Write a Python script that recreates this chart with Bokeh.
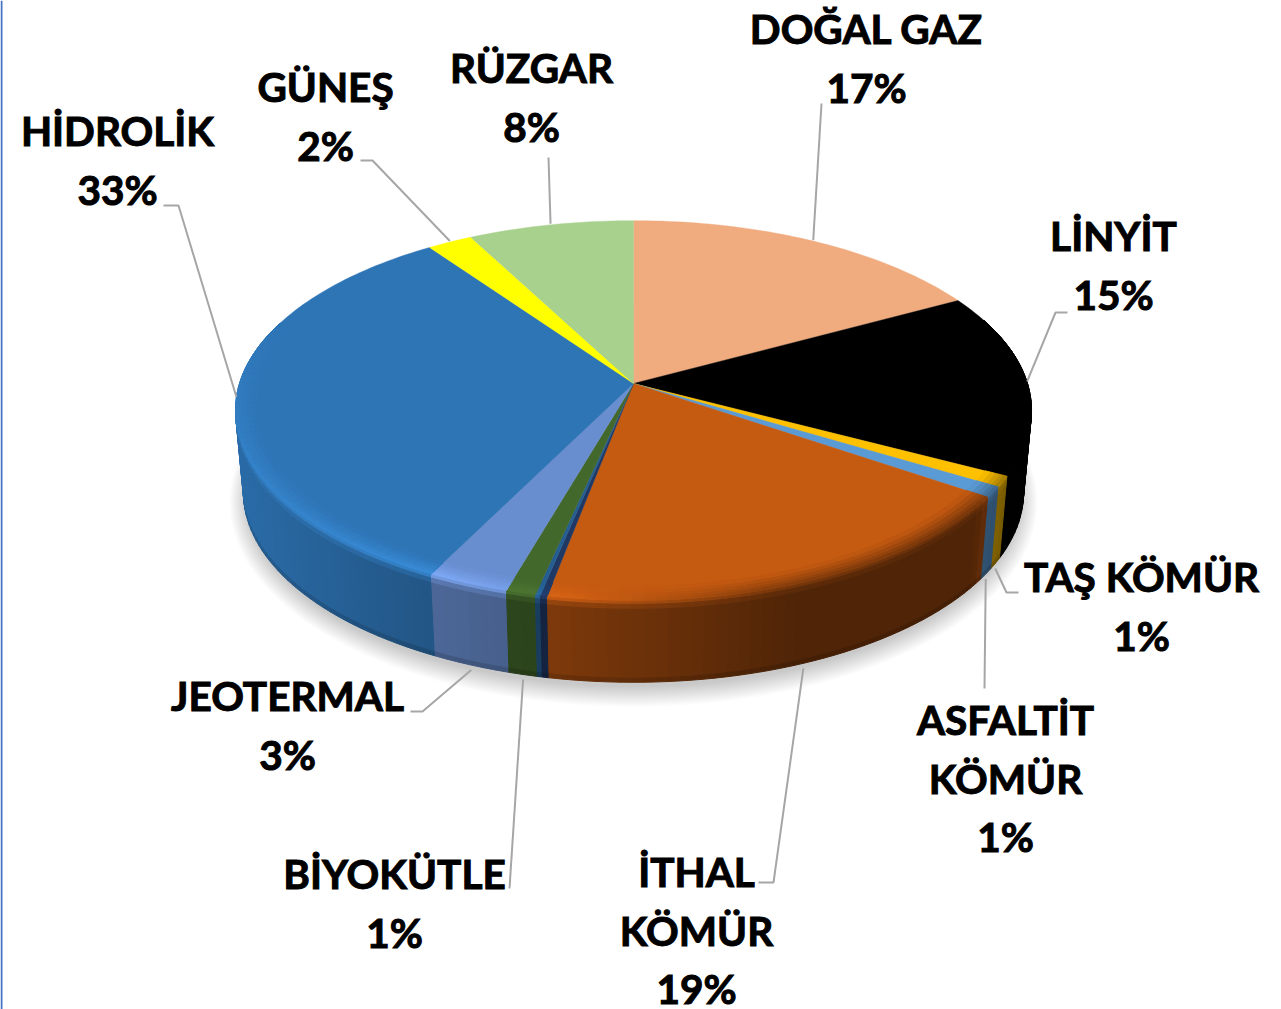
import numpy as np
from bokeh.plotting import figure
from bokeh.models import Range1d
from bokeh.core.properties import value
from bokeh.embed import file_html
from bokeh.resources import INLINE

# ---- data (clockwise from 12 o'clock) ----
names = ["DOĞAL GAZ", "LİNYİT", "TAŞ KÖMÜR", "ASFALTİT KÖMÜR", "İTHAL KÖMÜR", "", "",
         "BİYOKÜTLE", "JEOTERMAL", "HİDROLİK", "GÜNEŞ", "RÜZGAR"]
shares = [17.1, 15.6, 0.9, 0.9, 18.5, 0.25, 0.18, 1.05, 2.9, 32.8, 2.1, 7.7]
colors = ["#f0ab7f", "#000000", "#ffc000", "#5b9bd5", "#c55a11", "#1f3864", "#255e91",
          "#43682b", "#698ed0", "#2e75b6", "#ffff00", "#a9d18e"]
# ---- labels ----
label_lines = [["DOĞAL GAZ", "17%"], ["LİNYİT", "15%"], ["TAŞ KÖMÜR", "1%"],
               ["ASFALTİT", "KÖMÜR", "1%"], ["İTHAL", "KÖMÜR", "19%"],
               ["BİYOKÜTLE", "1%"], ["JEOTERMAL", "3%"], ["HİDROLİK", "33%"],
               ["GÜNEŞ", "2%"], ["RÜZGAR", "8%"]]
label_slice = [0, 1, 2, 3, 4, 7, 8, 9, 10, 11]

# ---- layout (page pixels) ----
label_cx = [866, 1113, 1141, 1005, 696, 394, 287, 117, 325, 531]
label_y0 = [28, 235, 576, 719, 871, 873, 695, 130, 86, 67]
line_gap = 58.5
elbows = [[(821, 103)], [(1055, 312), (1067, 312)], [(1006, 592), (1018, 592)],
          [(984, 688)], [(773, 882), (758, 882)], [(509, 888)],
          [(422, 711), (410, 711)], [(178, 205), (163, 205)],
          [(372, 160), (360, 160)], [(548, 157)]]
CX, CY, A, B, K = 633.0, 383.0, 394.0, 186.0, 0.142
DEPTH, BOTTOM_SCALE = 82.0, 0.98


def rim(theta, r=1.0, t=0.0):
    """Project a disc point; t=0 top face, t=1 bottom rim."""
    s, c = r * np.sin(theta), r * np.cos(theta)
    w = 1 + K * c
    sc = 1 + (BOTTOM_SCALE - 1) * t
    return CX + sc * A * s / w, CY - B * c / w + DEPTH * t


def rgb(h):
    return np.array([int(h[i:i + 2], 16) for i in (1, 3, 5)], float)


def hexc(v):
    v = np.clip(np.round(v), 0, 255).astype(int)
    return "#%02x%02x%02x" % tuple(v)


def side_factor(x):
    return np.interp(x, [234, 430, 545, 800, 975, 990, 1003, 1031],
                     [0.92, 0.73, 0.64, 0.40, 0.40, 0.53, 0.48, 0.48])


def light(x):
    return np.interp(x, [234, 430, 545, 640, 760], [0.10, 0.18, 0.10, 0.04, 0.0])


def dark(x):
    return np.interp(x, [560, 760, 1031], [0.0, 0.55, 0.75])


total = sum(shares)
edges = np.cumsum([0] + shares) / total * 2 * np.pi

p = figure(width=1281, height=1009, output_backend="svg", toolbar_location=None,
           x_range=Range1d(0, 1281), y_range=Range1d(1009, 0), min_border=0,
           outline_line_color=None, background_fill_color="white",
           border_fill_color="white")
p.xaxis.visible = False
p.yaxis.visible = False
p.grid.visible = False

# page edge rule
p.line([1, 1], [0, 1009], line_color="#4472c4", line_width=2)

# soft shadow under the disc
th = np.linspace(0, 2 * np.pi, 240)
sx, sy = rim(th, 1.0, 1.0)
for gx, gy in zip(np.linspace(1.036, 0.99, 18), np.linspace(1.075, 0.99, 18)):
    p.patch(CX + (sx - CX) * gx, 450 + (sy - 450) * gy + 7,
            fill_color="#000000", fill_alpha=0.0125, line_color=None)

# side wall and bevel strips
quads = []
tx, ty, tc = [], [], []
for i, base_hex in enumerate(colors):
    base = rgb(base_hex)
    n = max(2, int((edges[i + 1] - edges[i]) / np.radians(1.5)))
    ang = np.linspace(edges[i], edges[i + 1], n + 1)
    for a0, a1 in zip(ang[:-1], ang[1:]):
        am = (a0 + a1) / 2
        c = np.cos(am)
        xm, _ = rim(am)
        side = base * side_factor(xm)
        w = np.clip((0.35 - c) / 0.8, 0, 1)
        edge_col = base * (1 + light(xm) * w) + 18 * light(xm) * w
        edge_col = edge_col * (1 - dark(xm) * w) + side * dark(xm) * w
        if c < 0.35:
            stops = [(0.0, edge_col), (0.05, (edge_col + side) / 2), (0.11, side), (0.95, side),
                     (1.0, side * 0.72)]
            for (t0, c0), (t1, c1) in zip(stops[:-1], stops[1:]):
                x00, y00 = rim(a0, 1, t0)
                x01, y01 = rim(a1, 1, t0)
                x11, y11 = rim(a1, 1, t1)
                x10, y10 = rim(a0, 1, t1)
                quads.append((-c, [x00, x01, x11, x10], [y00, y01, y11, y10], hexc((c0 + c1) / 2)))
            rs = [0.945, 0.96, 0.972, 0.984, 0.993, 1.0]
            for j, (r0, r1) in enumerate(zip(rs[:-1], rs[1:])):
                f = (j + 0.5) / (len(rs) - 1)
                col = base * (1 - f) + edge_col * f
                x00, y00 = rim(a0, r0)
                x01, y01 = rim(a1, r0)
                x11, y11 = rim(a1, r1)
                x10, y10 = rim(a0, r1)
                tx.append([x00, x01, x11, x10])
                ty.append([y00, y01, y11, y10])
                tc.append(hexc(col))

# back of the wall first, so the nearer quads cover it
quads.sort(key=lambda q: q[0])
qc = [q[3] for q in quads]
p.patches([q[1] for q in quads], [q[2] for q in quads], fill_color=qc, line_color=qc, line_width=1.0)

# flat top wedges, drawn from the shares
wx, wy = [], []
for i in range(len(shares)):
    ang = np.linspace(edges[i], edges[i + 1], max(3, int((edges[i + 1] - edges[i]) / 0.02)))
    x, y = rim(ang)
    wx.append([CX] + list(x))
    wy.append([CY] + list(y))
p.patches(wx, wy, fill_color=colors, line_color=colors, line_width=0.4)
p.patches(tx, ty, fill_color=tc, line_color=tc, line_width=1.0)

# leader lines: anchored at the middle of each labelled slice
for sl, elbow in zip(label_slice, elbows):
    am = (edges[sl] + edges[sl + 1]) / 2
    if np.cos(am) < -0.3:
        x0, y0 = rim(am, 1, 1)
        y0 += 5
    else:
        x0, y0 = rim(am)
        y0 -= 1
    p.line([x0] + [e[0] for e in elbow], [y0] + [e[1] for e in elbow],
           line_color="#a6a6a6", line_width=2)

# labels
tx_, ty_, tt_ = [], [], []
for lines, cx, y0 in zip(label_lines, label_cx, label_y0):
    for j, s in enumerate(lines):
        tx_.append(cx)
        ty_.append(y0 + j * line_gap)
        tt_.append(s)
p.text(tx_, ty_, text=tt_, text_font=value("Lato"), text_font_style="bold",
       text_font_size="40.5px", text_align="center", text_baseline="middle", text_color="#000000",
       outline_color="#000000")

open("out.html", "w").write(file_html(p, INLINE))
